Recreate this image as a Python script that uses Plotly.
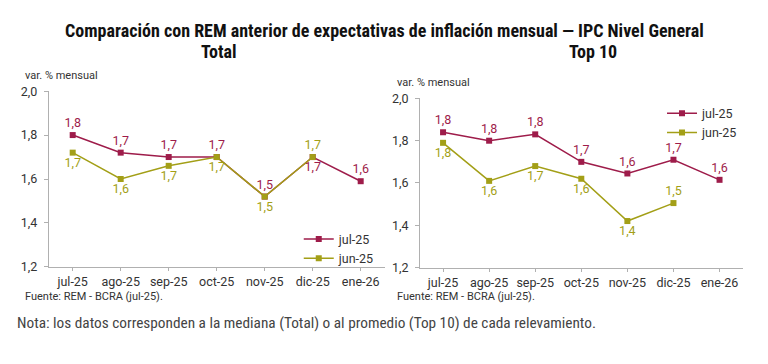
import plotly.graph_objects as go

categories = ["jul-25", "ago-25", "sep-25", "oct-25", "nov-25", "dic-25", "ene-26"]

total_jul25 = [1.80, 1.72, 1.70, 1.70, 1.52, 1.70, 1.59]
total_jun25 = [1.72, 1.60, 1.66, 1.70, 1.52, 1.70, None]

top10_jul25 = [1.84, 1.80, 1.83, 1.70, 1.645, 1.71, 1.615]
top10_jun25 = [1.79, 1.61, 1.68, 1.62, 1.42, 1.505, None]

y_ticks = [1.2, 1.4, 1.6, 1.8, 2.0]

RED = "#9e1c4a"
OLIVE = "#a39f17"
FONT = "Roboto, Arial, sans-serif"
COND = "Liberation Sans Narrow, Roboto Condensed, Roboto, sans-serif"

fig = go.Figure()

def add(series, name, color, xa, ya, positions, legend):
    fig.add_trace(go.Scatter(
        x=categories, y=series, name=name, mode="lines+markers+text",
        line=dict(color=color, width=1.5),
        marker=dict(symbol="square", size=6, color=color),
        texttemplate="%{y:.1f}", textposition=positions,
        textfont=dict(color=color, size=12.5, family=FONT),
        xaxis=xa, yaxis=ya, legend=legend,
        cliponaxis=False,
    ))

add(total_jul25, "jul-25", RED, "x", "y",
    ["top center"] * 5 + ["bottom center", "top center"], "legend")
add(total_jun25, "jun-25", OLIVE, "x", "y",
    ["bottom center"] * 5 + ["top center", "bottom center"], "legend")
add(top10_jul25, "jul-25", RED, "x2", "y2", ["top center"] * 7, "legend2")
add(top10_jun25, "jun-25", OLIVE, "x2", "y2",
    ["bottom center"] * 5 + ["top center", "bottom center"], "legend2")

axis_common = dict(showline=True, linecolor="#b0b0b0", linewidth=1,
                   ticks="outside", tickcolor="#b0b0b0",
                   showgrid=False, zeroline=False,
                   tickfont=dict(family=FONT, size=12.5, color="#333333"))

fig.update_layout(
    width=768, height=364,
    margin=dict(l=0, r=0, t=0, b=0),
    paper_bgcolor="white", plot_bgcolor="white",
    separators=",.",
    font=dict(family=FONT, color="#333333"),
    xaxis=dict(domain=[0.0634, 0.5009], range=[-0.5, 6.5], anchor="y",
               type="category", ticklen=3, **axis_common),
    yaxis=dict(domain=[0.2582, 0.7618], range=[1.2, 2.0], anchor="x", ticklen=4,
               tickvals=y_ticks, tickformat=".1f", ticklabelstandoff=4, **axis_common),
    xaxis2=dict(domain=[0.5469, 0.9669], range=[-0.5, 6.5], anchor="y2",
                type="category", ticklen=3, **axis_common),
    yaxis2=dict(domain=[0.2563, 0.7409], range=[1.2, 2.0], anchor="x2", ticklen=4,
                tickvals=y_ticks, tickformat=".1f", ticklabelstandoff=4, **axis_common),
    legend=dict(x=0.389, y=0.38, xanchor="left", yanchor="top",
                bgcolor="rgba(0,0,0,0)", tracegroupgap=0, itemwidth=30,
                font=dict(family=FONT, size=12.5, color="#333333")),
    legend2=dict(x=0.862, y=0.74, xanchor="left", yanchor="top",
                 bgcolor="rgba(0,0,0,0)", tracegroupgap=0, itemwidth=30,
                 font=dict(family=FONT, size=12.5, color="#333333")),
)

title_font = dict(family=COND, size=18, color="#111111")
ann = [
    dict(text="<b>Comparación con REM anterior de expectativas de inflación mensual — IPC Nivel General</b>",
         x=384, y=23, font=title_font),
    dict(text="<b>Total</b>", x=218, y=45, font=title_font),
    dict(text="<b>Top 10</b>", x=593, y=45, font=title_font),
]
for a in ann:
    fig.add_annotation(text=a["text"], x=a["x"] / 768, y=1 - a["y"] / 364,
                       xref="paper", yref="paper", showarrow=False,
                       xanchor="center", yanchor="middle", font=a["font"])

small = dict(family=FONT, size=11, color="#333333")
for txt, x, y in [("var. % mensual", 23, 70), ("var. % mensual", 395, 78),
                  ("Fuente: REM - BCRA (jul-25).", 23, 301),
                  ("Fuente: REM - BCRA (jul-25).", 395, 301)]:
    fig.add_annotation(text=txt, x=x / 768, y=1 - y / 364, xref="paper", yref="paper",
                       showarrow=False, xanchor="left", yanchor="middle", font=small)

fig.add_annotation(text="Nota: los datos corresponden a la mediana (Total) o al promedio (Top 10) de cada relevamiento.",
                   x=15 / 768, y=1 - 329 / 364, xref="paper", yref="paper",
                   showarrow=False, xanchor="left", yanchor="middle",
                   font=dict(family=COND, size=15.3, color="#444444"))

post = ("document.documentElement.style.margin='0';"
        "document.body.style.margin='0';document.body.style.padding='0';"
        "document.body.style.overflow='hidden';"
        "var d=document.getElementById('{plot_id}');"
        "d.style.position='fixed';d.style.top='0px';d.style.left='0px';")

fig.write_html("out.html", config={"displayModeBar": False}, post_script=post)
